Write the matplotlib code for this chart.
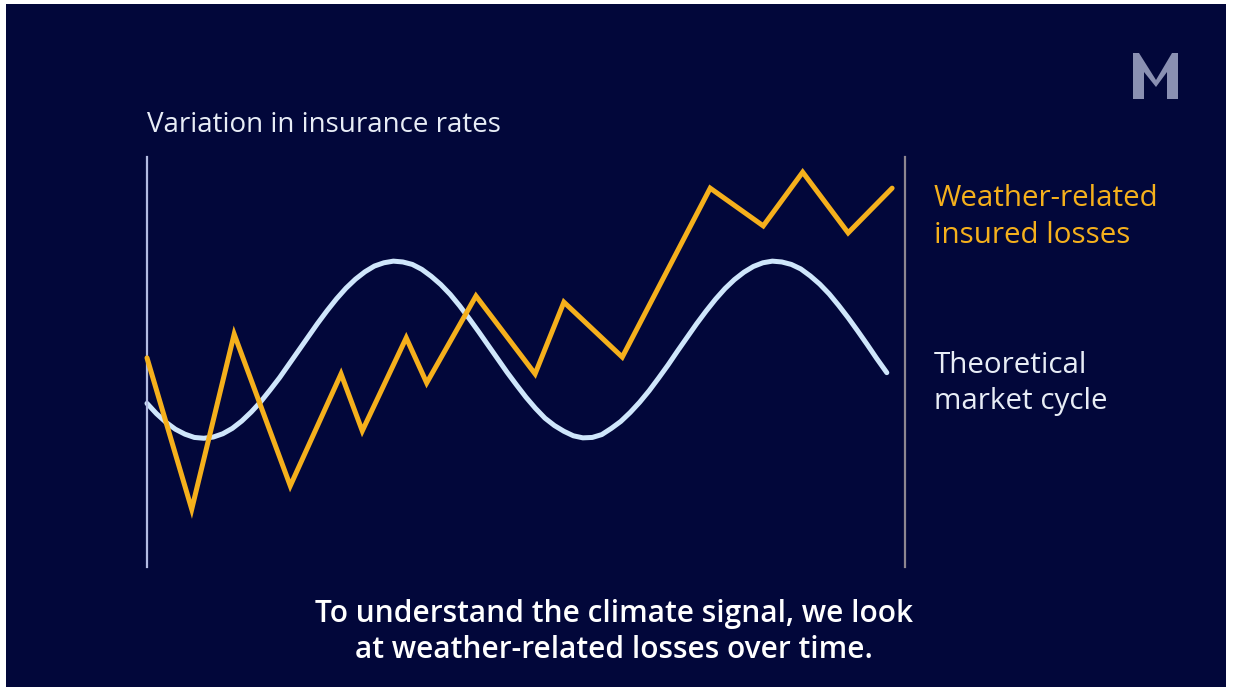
import matplotlib
matplotlib.use("Agg")
import matplotlib.pyplot as plt
from matplotlib.patches import Rectangle, Polygon

plt.rcParams['font.family'] = ['Open Sans', 'DejaVu Sans']

# weather-related insured losses (x: time 0-100, y: relative level 0-100)
loss_x = [0, 5.9, 11.5, 18.9, 25.6, 28.4, 34.2, 36.9, 43.4, 51.2, 55.0, 62.7, 74.3, 81.3, 86.5, 92.5, 98.3]
loss_y = [51.0, 14.1, 56.8, 19.8, 47.1, 33.2, 55.9, 44.9, 66.1, 47.1, 64.6, 51.2, 92.4, 83.2, 96.3, 81.5, 92.4]

# theoretical market cycle
cycle_x = [0, 1.25, 2.5, 3.75, 5, 6.25, 7.5, 8.75, 10, 11.25, 12.5, 13.75, 15, 16.25, 17.5, 18.75,
           20, 21.25, 22.5, 23.75, 25, 26.25, 27.5, 28.75, 30, 31.25, 32.5, 33.75, 35, 36.25,
           37.5, 38.75, 40, 41.25, 42.5, 43.75, 45, 46.25, 47.5, 48.75, 50, 51.25, 52.5, 53.75,
           55, 56.25, 57.5, 58.75, 60, 61.25, 62.5, 63.75, 65, 66.25, 67.5, 68.75, 70, 71.25,
           72.5, 73.75, 75, 76.25, 77.5, 78.75, 80, 81.25, 82.5, 83.75, 85, 86.25, 87.5, 88.75,
           90, 91.25, 92.5, 93.75, 95, 96.25, 97.6]
cycle_y = [39.9, 37.4, 35.3, 33.6, 32.4, 31.6, 31.4, 31.7, 32.5, 33.8, 35.6, 37.8, 40.3, 43.2,
           46.2, 49.5, 52.8, 56.1, 59.4, 62.5, 65.4, 68.0, 70.2, 72.0, 73.4, 74.2, 74.6, 74.4,
           73.8, 72.6, 70.9, 68.9, 66.5, 63.7, 60.6, 57.4, 54.1, 50.8, 47.5, 44.4, 41.4, 38.7,
           36.3, 34.5, 33.1, 32.0, 31.5, 31.6, 32.3, 33.8, 35.5, 37.7, 40.2, 43.0, 46.1, 49.3,
           52.7, 56.0, 59.3, 62.4, 65.3, 67.9, 70.1, 71.9, 73.3, 74.2, 74.6, 74.4, 73.8, 72.7,
           71.0, 69.0, 66.6, 63.8, 60.8, 57.6, 54.3, 50.9, 47.4]

W, H = 1233, 687
bg = '#02073a'
orange = '#f5b01c'
cycle_col = '#cfe6fb'

fig = plt.figure(figsize=(W / 100, H / 100), dpi=100, facecolor='white')
fig.patches.append(Rectangle((6 / W, 0), 1220 / W, 683 / H, transform=fig.transFigure,
                             facecolor=bg, edgecolor='none', zorder=-10))

def fx(px):
    return px / W

def fy(py):
    return 1 - py / H

ax = fig.add_axes([fx(147), fy(567), (905 - 147) / W, (567 - 157) / H])
ax.set_facecolor('none')
ax.set_xlim(0, 100)
ax.set_ylim(0, 100)
ax.set_xticks([])
ax.set_yticks([])
for s in ['top', 'bottom']:
    ax.spines[s].set_visible(False)
ax.spines['left'].set_color('#b3bbe2')
ax.spines['left'].set_linewidth(1.6)
ax.spines['right'].set_color('#8d8690')
ax.spines['right'].set_linewidth(1.6)

ax.plot(cycle_x, cycle_y, color=cycle_col, lw=3.6, solid_capstyle='round',
        solid_joinstyle='round', clip_on=False, zorder=2)
ax.plot(loss_x, loss_y, color=orange, lw=3.6, solid_capstyle='round', solid_joinstyle='miter',
        clip_on=False, zorder=3)

# texts
fig.text(fx(147), fy(132), 'Variation in insurance rates', color='#e8edf6', fontsize=20, va='baseline')
fig.text(fx(934), fy(206), 'Weather-related', color=orange, fontsize=21.3, va='baseline')
fig.text(fx(934), fy(243), 'insured losses', color=orange, fontsize=21.3, va='baseline')
fig.text(fx(934), fy(373), 'Theoretical', color='#e8edf6', fontsize=21.3, va='baseline')
fig.text(fx(934), fy(409), 'market cycle', color='#e8edf6', fontsize=21.3, va='baseline')
fig.text(fx(614), fy(622), 'To understand the climate signal, we look', color='white',
         fontsize=21.5, va='baseline', ha='center', fontweight='semibold')
fig.text(fx(614), fy(658), 'at weather-related losses over time.', color='white',
         fontsize=21.5, va='baseline', ha='center', fontweight='semibold')

# logo "M"
logo = [(1133, 99), (1133, 53), (1139, 53), (1156, 80), (1172, 53), (1178, 53), (1178, 99),
        (1167, 99), (1167, 72), (1156, 87), (1144, 72), (1144, 99)]
fig.patches.append(Polygon([(fx(a), fy(b)) for a, b in logo], closed=True,
                           transform=fig.transFigure, facecolor='#8a90b2', edgecolor='none'))

fig.savefig('out.png', dpi=100, facecolor=fig.get_facecolor())
